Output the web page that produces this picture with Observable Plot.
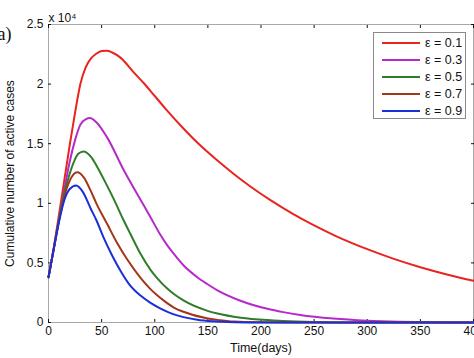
<!DOCTYPE html>
<html>
<head>
<meta charset="utf-8">
<script src="https://cdn.jsdelivr.net/npm/d3@7"></script>
<script src="https://cdn.jsdelivr.net/npm/@observablehq/plot@0.6"></script>
<style>
  html, body { margin: 0; padding: 0; background: #fff; overflow: hidden; }
  #wrap { position: relative; width: 474px; height: 358px; font-family: "Liberation Sans", Arial, sans-serif; }
  #legend { position: absolute; left: 373px; top: 32px; width: 93px; height: 87px; border: 1px solid #8a8a8a; background: #fff; box-sizing: border-box; }
  .row { position: absolute; left: 0; height: 16px; display: flex; align-items: center; }
  .row svg { margin-left: 8px; }
  .row span { margin-left: 5px; font-size: 12.5px; color: #111; }
</style>
</head>
<body>
<div id="wrap"></div>
<script>
// ---- data ----
const labels = ["ε = 0.1", "ε = 0.3", "ε = 0.5", "ε = 0.7", "ε = 0.9"];
const colors = ["#e8241f", "#b52ac9", "#2f7d2a", "#a3361a", "#1b2fd9"];

const tRed = [0, 5, 10, 15, 20, 25, 30, 35, 40, 45, 50, 55, 60, 68, 80, 90, 100, 110, 127, 140, 159, 175, 190, 210, 230, 250, 270, 300, 325, 350, 375, 400];
const vRed = [3800, 6300, 9100, 12000, 14900, 17600, 20000, 21400, 22150, 22550, 22780, 22800, 22650, 22200, 21000, 20050, 19000, 17950, 16280, 15100, 13590, 12420, 11410, 10200, 9110, 8140, 7270, 6150, 5340, 4640, 4030, 3500];

const tPur = [0, 5, 10, 15, 20, 25, 30, 35, 39, 45, 55, 71, 87, 96, 105, 112, 118, 127, 140, 149, 159, 180, 206, 221, 237, 268, 300, 330, 360, 400];
const vPur = [3800, 6200, 8700, 11200, 13500, 15300, 16600, 17050, 17150, 16800, 15550, 12750, 10240, 8835, 7400, 6450, 5750, 4800, 3800, 3250, 2700, 1850, 1150, 870, 630, 330, 150, 60, 20, 5];

const tGrn = [0, 5, 10, 15, 18, 24, 28, 33, 40, 46, 55, 62, 70, 77, 87, 96, 102, 112, 118, 127, 149, 159, 181, 206, 221, 250, 280, 400];
const vGrn = [3800, 6200, 8700, 10900, 11900, 13500, 14150, 14350, 13900, 13030, 11500, 10240, 8700, 7440, 5700, 4420, 3750, 2830, 2390, 1850, 1000, 750, 400, 200, 130, 50, 10, 0];

const tBrn = [0, 5, 10, 15, 20, 27, 33, 40, 45, 55, 65, 74, 87, 96, 102, 112, 118, 127, 149, 159, 175, 200, 230, 400];
const vBrn = [3800, 6200, 8600, 10600, 11900, 12600, 12200, 11000, 10000, 8300, 6600, 5300, 3700, 2800, 2300, 1600, 1250, 900, 350, 220, 80, 20, 0, 0];

const tBlu = [0, 5, 10, 15, 20, 26, 32, 40, 45, 52, 60, 68, 76, 86, 96, 106, 116, 127, 140, 155, 175, 200, 250, 400];
const vBlu = [3800, 6200, 8500, 10300, 11200, 11500, 11000, 9500, 8600, 7100, 5600, 4300, 3200, 2300, 1650, 1150, 750, 450, 230, 100, 30, 5, 0, 0];

const xTicks = [0, 50, 100, 150, 200, 250, 300, 350, 400];
const yTicks = [0, 5000, 10000, 15000, 20000, 25000];
const xLabel = "Time(days)";
const yLabel = "Cumulative number of active cases";

// ---- build ----
const seriesT = [tRed, tPur, tGrn, tBrn, tBlu];
const seriesV = [vRed, vPur, vGrn, vBrn, vBlu];
const rows = [];
seriesT.forEach((ts, i) => ts.forEach((t, j) => rows.push({t, v: seriesV[i][j], s: labels[i]})));

const fmtY = d => String(d / 1e4);

const chart = Plot.plot({
  width: 474,
  height: 358,
  marginLeft: 48,
  marginRight: 1,
  marginTop: 24,
  marginBottom: 36,
  style: {fontFamily: "'Liberation Sans', Arial, sans-serif", fontSize: "12px", color: "#111", background: "#fff"},
  x: {domain: [0, 400]},
  y: {domain: [0, 25000]},
  color: {domain: labels, range: colors},
  marks: [
    Plot.frame({stroke: "#a8a8a8"}),
    Plot.axisX({ticks: xTicks, tickSize: -3, tickPadding: 7, tickFormat: d => String(d), label: null}),
    Plot.axisX({anchor: "top", ticks: xTicks, tickSize: -3, tickFormat: () => "", label: null}),
    Plot.axisY({ticks: yTicks, tickSize: -3, tickPadding: 8, tickFormat: fmtY, label: null}),
    Plot.axisY({anchor: "right", ticks: yTicks, tickSize: -3, tickFormat: () => "", label: null}),
    Plot.line(rows, {x: "t", y: "v", z: "s", stroke: "s", strokeWidth: 2, curve: "monotone-x"}),
    Plot.text([xLabel], {frameAnchor: "bottom", dy: 25, lineAnchor: "middle", textAnchor: "middle", fontSize: 12.5}),
    Plot.text([yLabel], {frameAnchor: "left", dx: -38, rotate: -90, lineAnchor: "middle", textAnchor: "middle", fontSize: 12}),
    Plot.text(["x 10⁴"], {frameAnchor: "top-left", dx: 0, dy: -11, textAnchor: "start", fontSize: 12}),
    Plot.text(["(a)"], {frameAnchor: "top-left", dx: -37, dy: 3, textAnchor: "end", fontSize: 18, fontFamily: "'Liberation Serif', 'Times New Roman', serif"})
  ]
});

const wrap = document.getElementById("wrap");
wrap.appendChild(chart);

const legend = document.createElement("div");
legend.id = "legend";
const tops = [2, 18.5, 35.5, 53, 69.5];
labels.forEach((lab, i) => {
  const r = document.createElement("div");
  r.className = "row";
  r.style.top = tops[i] + "px";
  r.innerHTML = `<svg width="38" height="4"><line x1="0" x2="38" y1="2" y2="2" stroke="${colors[i]}" stroke-width="2"/></svg><span>${lab}</span>`;
  legend.appendChild(r);
});
wrap.appendChild(legend);
</script>
</body>
</html>
